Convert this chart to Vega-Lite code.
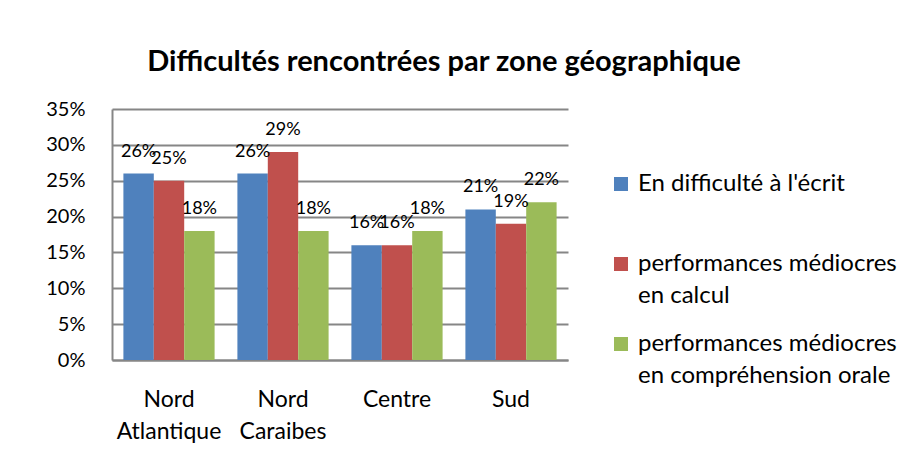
{
  "$schema": "https://vega.github.io/schema/vega-lite/v6.json",
  "autosize": "none",
  "width": 456,
  "height": 251,
  "padding": {"left": 112, "top": 109, "right": 345, "bottom": 108},
  "background": "white",
  "title": {
    "text": "Difficultés rencontrées par zone géographique",
    "font": "Lato",
    "fontSize": 29,
    "fontWeight": "bold",
    "color": "black",
    "anchor": "middle",
    "dx": 104,
    "baseline": "alphabetic",
    "offset": -1
  },
  "data": {
    "values": [
      {"zone": "Nord Atlantique", "serie": "En difficulté à l'écrit", "valeur": 0.26},
      {"zone": "Nord Atlantique", "serie": "performances médiocres en calcul", "valeur": 0.25},
      {"zone": "Nord Atlantique", "serie": "performances médiocres en compréhension orale", "valeur": 0.18},
      {"zone": "Nord Caraibes", "serie": "En difficulté à l'écrit", "valeur": 0.26},
      {"zone": "Nord Caraibes", "serie": "performances médiocres en calcul", "valeur": 0.29},
      {"zone": "Nord Caraibes", "serie": "performances médiocres en compréhension orale", "valeur": 0.18},
      {"zone": "Centre", "serie": "En difficulté à l'écrit", "valeur": 0.16},
      {"zone": "Centre", "serie": "performances médiocres en calcul", "valeur": 0.16},
      {"zone": "Centre", "serie": "performances médiocres en compréhension orale", "valeur": 0.18},
      {"zone": "Sud", "serie": "En difficulté à l'écrit", "valeur": 0.21},
      {"zone": "Sud", "serie": "performances médiocres en calcul", "valeur": 0.19},
      {"zone": "Sud", "serie": "performances médiocres en compréhension orale", "valeur": 0.22}
    ]
  },
  "encoding": {
    "x": {
      "field": "zone",
      "type": "nominal",
      "sort": ["Nord Atlantique", "Nord Caraibes", "Centre", "Sud"],
      "scale": {"paddingInner": 0.2, "paddingOuter": 0.1},
      "axis": {
        "title": null,
        "labelAngle": 0,
        "labelExpr": "split(datum.label, ' ')",
        "labelFont": "Lato",
        "labelFontSize": 23,
        "labelColor": "black",
        "labelLineHeight": 32,
        "labelPadding": 28,
        "ticks": false,
        "tickSize": 0,
        "domainColor": "#868686",
        "domainWidth": 2,
        "grid": false
      }
    },
    "xOffset": {
      "field": "serie",
      "type": "nominal",
      "sort": ["En difficulté à l'écrit", "performances médiocres en calcul", "performances médiocres en compréhension orale"]
    },
    "y": {
      "field": "valeur",
      "type": "quantitative",
      "scale": {"domain": [0, 0.35], "nice": false},
      "axis": {
        "title": null,
        "values": [0, 0.05, 0.1, 0.15, 0.2, 0.25, 0.3, 0.35],
        "format": ".0%",
        "labelFont": "Lato",
        "labelFontSize": 20,
        "labelColor": "black",
        "labelPadding": 27,
        "ticks": false,
        "tickSize": 0,
        "domainColor": "#868686",
        "domainWidth": 2,
        "grid": true,
        "gridColor": "#868686",
        "gridWidth": 2
      }
    }
  },
  "layer": [
    {
      "mark": {"type": "bar"},
      "encoding": {
        "color": {
          "field": "serie",
          "type": "nominal",
          "sort": ["En difficulté à l'écrit", "performances médiocres en calcul", "performances médiocres en compréhension orale"],
          "scale": {
            "domain": ["En difficulté à l'écrit", "performances médiocres en calcul", "performances médiocres en compréhension orale"],
            "range": ["#4f81bd", "#c0504d", "#9bbb59"]
          },
          "legend": {
            "title": null,
            "orient": "none",
            "legendX": 497,
            "legendY": 63,
            "symbolType": "square",
            "symbolSize": 196,
            "symbolStrokeWidth": 0,
            "symbolOpacity": 1,
            "labelFont": "Lato",
            "labelFontSize": 24,
            "labelColor": "black",
            "labelOffset": 5,
            "labelLimit": 400,
            "labelExpr": "datum.label == 'performances médiocres en calcul' ? ['performances médiocres', 'en calcul'] : datum.label == 'performances médiocres en compréhension orale' ? ['performances médiocres', 'en compréhension orale'] : [datum.label, ' ']",
            "rowPadding": 24,
            "padding": 0
          }
        }
      }
    },
    {
      "mark": {"type": "text", "baseline": "alphabetic", "dy": -17, "font": "Lato", "fontSize": 18, "color": "black"},
      "encoding": {
        "text": {"field": "valeur", "type": "quantitative", "format": ".0%"}
      }
    }
  ],
  "config": {
    "view": {"stroke": null},
    "style": {"guide-label": {"lineHeight": 32}}
  }
}
